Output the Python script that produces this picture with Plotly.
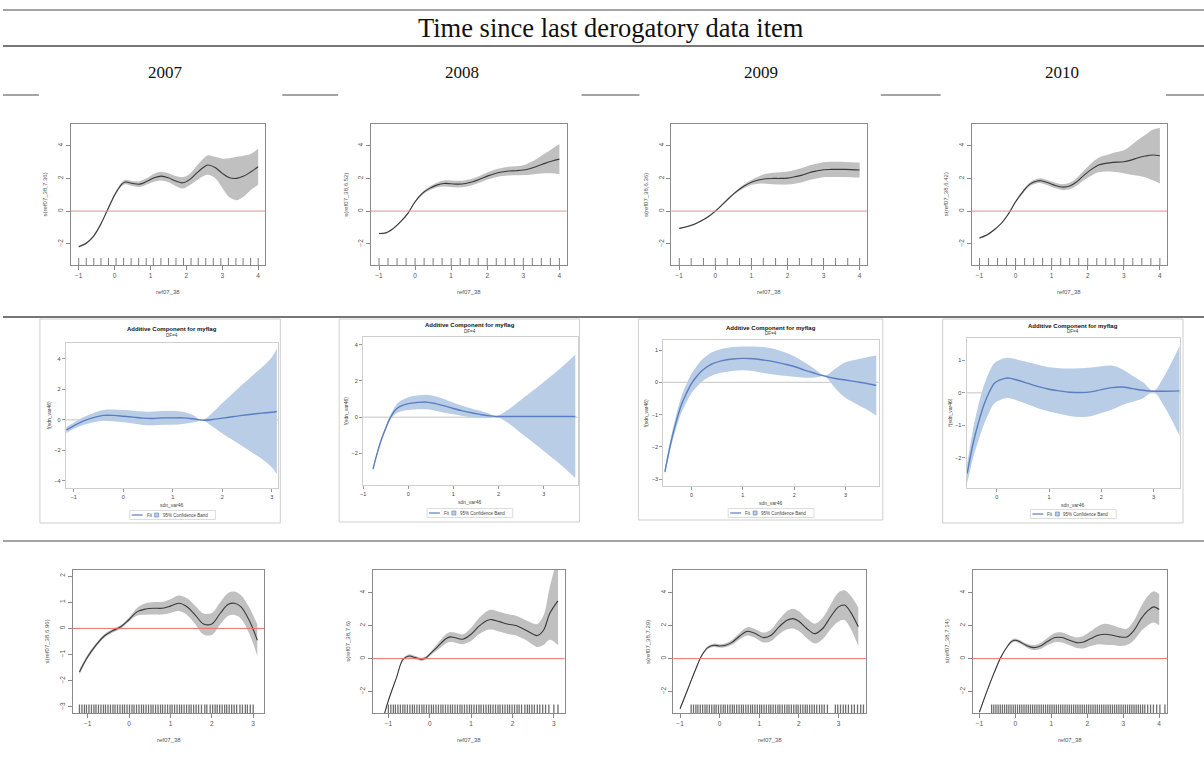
import plotly.graph_objects as go

W, H = 1204, 758

# ---------------- text ----------------
HEADER = "Time since last derogatory data item"
YEARS = ["2007", "2008", "2009", "2010"]
R1_YLABELS = ["s(ref07_38,7.36)", "s(ref07_38,6.52)", "s(ref07_38,6.36)", "s(ref07_38,6.42)"]
R3_YLABELS = ["s(ref07_38,6.96)", "s(ref07_38,7.6)", "s(ref07_38,7.29)", "s(ref07_38,7.14)"]
R_XLABEL = "ref07_38"
SAS_TITLE = "Additive Component for myflag"
SAS_SUB = "DF=4"
SAS_YLABEL = "f(sdn_var46)"
SAS_XLABEL = "sdn_var46"
SAS_LEG_FIT = "Fit"
SAS_LEG_BAND = "95% Confidence Band"

# ---------------- row 1 (gam smooths, regular rug) ----------------
R1_2007_X = [-1, -0.8, -0.6, -0.4, -0.2, 0, 0.1, 0.2, 0.3, 0.5, 0.7, 0.9, 1.1, 1.3, 1.5, 1.7, 1.9, 2.1, 2.3, 2.5, 2.6, 2.8, 3.0, 3.2, 3.4, 3.6, 3.8, 4.0]
R1_2007_FIT = [-2.18, -1.98, -1.57, -0.86, 0.06, 0.98, 1.35, 1.65, 1.78, 1.69, 1.65, 1.82, 2.04, 2.14, 2.04, 1.84, 1.73, 1.94, 2.35, 2.71, 2.82, 2.67, 2.31, 2.04, 2.0, 2.14, 2.41, 2.71]
R1_2007_HW = [0.07, 0.07, 0.08, 0.08, 0.08, 0.1, 0.1, 0.12, 0.14, 0.15, 0.18, 0.2, 0.25, 0.27, 0.27, 0.3, 0.35, 0.35, 0.45, 0.55, 0.6, 0.65, 0.9, 1.2, 1.33, 1.25, 1.1, 1.1]
R1_2007_RUG = [-1.0, -0.79, -0.58, -0.38, -0.17, 0.04, 0.25, 0.46, 0.67, 0.88, 1.08, 1.29, 1.5, 1.71, 1.92, 2.13, 2.33, 2.54, 2.75, 2.96, 3.17, 3.38, 3.58, 3.79, 4.0]

R1_2008_X = [-1, -0.8, -0.6, -0.4, -0.2, 0, 0.2, 0.4, 0.6, 0.8, 1.0, 1.2, 1.4, 1.6, 1.8, 2.0, 2.2, 2.4, 2.6, 2.8, 3.0, 3.2, 3.4, 3.6, 3.8, 4.0]
R1_2008_FIT = [-1.37, -1.33, -1.06, -0.65, -0.14, 0.57, 1.08, 1.39, 1.59, 1.69, 1.67, 1.65, 1.69, 1.8, 1.96, 2.14, 2.29, 2.39, 2.45, 2.47, 2.51, 2.61, 2.76, 2.92, 3.06, 3.18]
R1_2008_HW = [0.05, 0.05, 0.05, 0.05, 0.06, 0.07, 0.09, 0.12, 0.15, 0.18, 0.2, 0.2, 0.2, 0.2, 0.21, 0.22, 0.24, 0.25, 0.27, 0.28, 0.3, 0.38, 0.48, 0.6, 0.75, 0.92]
R1_2008_RUG = [-1.0, -0.75, -0.5, -0.25, 0.0, 0.25, 0.5, 0.75, 1.0, 1.25, 1.5, 1.75, 2.0, 2.25, 2.5, 2.75, 3.0, 3.25, 3.5, 3.75, 4.0]

R1_2009_X = [-1, -0.8, -0.6, -0.4, -0.2, 0, 0.2, 0.4, 0.6, 0.8, 1.0, 1.2, 1.4, 1.6, 1.8, 2.0, 2.2, 2.4, 2.6, 2.8, 3.0, 3.2, 3.6, 4.0]
R1_2009_FIT = [-1.06, -0.96, -0.82, -0.61, -0.35, 0.0, 0.41, 0.84, 1.22, 1.53, 1.76, 1.9, 1.98, 2.0, 2.0, 2.02, 2.1, 2.2, 2.35, 2.45, 2.53, 2.55, 2.55, 2.51]
R1_2009_HW = [0.04, 0.04, 0.04, 0.04, 0.04, 0.05, 0.06, 0.07, 0.09, 0.12, 0.15, 0.22, 0.3, 0.35, 0.38, 0.4, 0.42, 0.43, 0.44, 0.45, 0.46, 0.47, 0.46, 0.46]
R1_2009_RUG = [-1.0, -0.67, -0.33, 0.0, 0.33, 0.67, 1.0, 1.33, 1.67, 2.0, 2.33, 2.67, 3.0, 3.33, 3.67, 4.0]

R1_2010_X = [-1, -0.8, -0.6, -0.4, -0.2, 0, 0.2, 0.4, 0.6, 0.7, 0.9, 1.1, 1.3, 1.5, 1.7, 1.9, 2.1, 2.3, 2.5, 2.7, 3.0, 3.2, 3.4, 3.6, 3.8, 4.0]
R1_2010_FIT = [-1.65, -1.47, -1.16, -0.76, -0.18, 0.57, 1.18, 1.65, 1.84, 1.86, 1.73, 1.57, 1.47, 1.53, 1.8, 2.2, 2.55, 2.82, 2.92, 2.98, 3.02, 3.12, 3.27, 3.37, 3.43, 3.39]
R1_2010_HW = [0.05, 0.05, 0.05, 0.05, 0.06, 0.08, 0.1, 0.12, 0.14, 0.15, 0.16, 0.17, 0.18, 0.2, 0.24, 0.3, 0.38, 0.45, 0.5, 0.58, 0.7, 0.9, 1.1, 1.3, 1.55, 1.7]
R1_2010_RUG = [-1.0, -0.75, -0.5, -0.25, 0.0, 0.25, 0.5, 0.75, 1.0, 1.25, 1.5, 1.75, 2.0, 2.25, 2.5, 2.75, 3.0, 3.25, 3.5, 3.75, 4.0]

# ---------------- row 2 (SAS additive components) ----------------
S_2007_X = [-1.15, -1.0, -0.8, -0.6, -0.4, -0.2, 0, 0.2, 0.4, 0.6, 0.8, 1.0, 1.2, 1.4, 1.6, 1.8, 2.0, 2.2, 2.4, 2.6, 2.8, 3.0, 3.1]
S_2007_FIT = [-0.66, -0.39, -0.07, 0.15, 0.29, 0.29, 0.24, 0.18, 0.11, 0.09, 0.13, 0.13, 0.13, 0.07, -0.02, 0.02, 0.11, 0.2, 0.29, 0.37, 0.44, 0.5, 0.55]
S_2007_HW = [0.2, 0.2, 0.25, 0.3, 0.35, 0.38, 0.4, 0.42, 0.44, 0.45, 0.45, 0.45, 0.4, 0.25, 0.02, 0.45, 1.0, 1.5, 2.0, 2.5, 3.0, 3.6, 4.1]

S_2008_X = [-0.78, -0.7, -0.6, -0.5, -0.4, -0.3, -0.2, 0, 0.2, 0.4, 0.6, 0.8, 1.0, 1.2, 1.4, 1.6, 1.8, 1.95, 2.2, 2.5, 2.8, 3.0, 3.3, 3.7]
S_2008_FIT = [-2.86, -2.09, -1.27, -0.62, -0.04, 0.35, 0.57, 0.75, 0.81, 0.83, 0.75, 0.62, 0.48, 0.35, 0.24, 0.15, 0.07, 0.04, 0.04, 0.04, 0.04, 0.04, 0.04, 0.04]
S_2008_HW = [0.1, 0.1, 0.1, 0.1, 0.12, 0.2, 0.28, 0.35, 0.38, 0.4, 0.4, 0.37, 0.32, 0.28, 0.24, 0.2, 0.12, 0.02, 0.35, 0.92, 1.5, 1.9, 2.5, 3.4]

S_2009_X = [-0.52, -0.4, -0.3, -0.2, -0.1, 0, 0.1, 0.2, 0.4, 0.6, 0.8, 1.0, 1.2, 1.4, 1.6, 1.8, 2.0, 2.2, 2.4, 2.6, 2.8, 3.0, 3.2, 3.4, 3.6]
S_2009_FIT = [-2.77, -1.84, -1.22, -0.70, -0.34, -0.03, 0.18, 0.36, 0.57, 0.67, 0.72, 0.74, 0.73, 0.69, 0.64, 0.57, 0.49, 0.38, 0.28, 0.19, 0.12, 0.07, 0.02, -0.03, -0.1]
S_2009_HW = [0.08, 0.15, 0.2, 0.25, 0.28, 0.3, 0.32, 0.34, 0.36, 0.37, 0.37, 0.37, 0.38, 0.4, 0.4, 0.37, 0.32, 0.24, 0.13, 0.02, 0.3, 0.55, 0.68, 0.8, 0.93]

S_2010_X = [-0.57, -0.45, -0.35, -0.25, -0.15, -0.05, 0.05, 0.2, 0.4, 0.6, 0.8, 1.0, 1.2, 1.4, 1.6, 1.8, 2.0, 2.2, 2.4, 2.6, 2.8, 3.0, 3.2, 3.5]
S_2010_FIT = [-2.49, -1.52, -0.90, -0.38, 0.01, 0.29, 0.39, 0.46, 0.39, 0.29, 0.19, 0.11, 0.06, 0.02, 0.01, 0.03, 0.1, 0.16, 0.18, 0.13, 0.08, 0.05, 0.05, 0.06]
S_2010_HW = [0.3, 0.45, 0.55, 0.6, 0.62, 0.62, 0.62, 0.62, 0.63, 0.65, 0.67, 0.68, 0.7, 0.73, 0.75, 0.75, 0.72, 0.68, 0.55, 0.4, 0.25, 0.02, 0.45, 1.38]

# ---------------- row 3 (gam smooths, dense rug) ----------------
R3_2007_X = [-1.2, -1.0, -0.8, -0.6, -0.4, -0.2, 0, 0.2, 0.4, 0.6, 0.8, 1.0, 1.2, 1.4, 1.6, 1.8, 2.0, 2.2, 2.4, 2.55, 2.7, 2.9, 3.1]
R3_2007_FIT = [-1.66, -1.08, -0.64, -0.29, -0.09, 0.06, 0.34, 0.64, 0.74, 0.77, 0.77, 0.85, 0.96, 0.83, 0.51, 0.17, 0.17, 0.57, 0.92, 0.96, 0.83, 0.32, -0.45]
R3_2007_HW = [0.1, 0.08, 0.07, 0.07, 0.07, 0.07, 0.08, 0.15, 0.22, 0.24, 0.24, 0.26, 0.3, 0.32, 0.35, 0.4, 0.42, 0.42, 0.44, 0.45, 0.45, 0.5, 0.6]
R3_2007_RUG = [-1.2, -1.14, -1.08, -1.03, -0.97, -0.91, -0.85, -0.8, -0.74, -0.68, -0.62, -0.57, -0.51, -0.45, -0.39, -0.34, -0.28, -0.22, -0.16, -0.11, -0.05, 0.01, 0.07, 0.12, 0.18, 0.24, 0.3, 0.35, 0.41, 0.47, 0.53, 0.58, 0.64, 0.7, 0.76, 0.81, 0.87, 0.93, 0.99, 1.04, 1.1, 1.16, 1.22, 1.27, 1.33, 1.39, 1.45, 1.5, 1.56, 1.62, 1.68, 1.75, 1.83, 1.88, 1.96, 2.02, 2.08, 2.13, 2.19, 2.25, 2.31, 2.36, 2.42, 2.48, 2.54, 2.6, 2.68, 2.74, 2.81, 2.86, 2.93, 3.0]

R3_2008_X = [-1.1, -1.0, -0.8, -0.65, -0.5, -0.35, -0.2, -0.1, 0, 0.2, 0.4, 0.5, 0.6, 0.8, 1.0, 1.2, 1.4, 1.5, 1.7, 1.9, 2.1, 2.3, 2.5, 2.6, 2.75, 2.9, 3.1]
R3_2008_FIT = [-3.4, -2.54, -1.12, -0.06, 0.16, 0.06, -0.04, 0.04, 0.26, 0.75, 1.22, 1.32, 1.28, 1.18, 1.48, 1.99, 2.33, 2.37, 2.23, 2.09, 1.99, 1.76, 1.48, 1.4, 1.72, 2.74, 3.51]
R3_2008_HW = [0.05, 0.05, 0.05, 0.06, 0.1, 0.1, 0.1, 0.1, 0.1, 0.2, 0.28, 0.3, 0.3, 0.3, 0.4, 0.5, 0.58, 0.6, 0.6, 0.6, 0.6, 0.6, 0.65, 0.7, 0.9, 1.6, 2.7]
R3_2008_RUG = [-1.0, -0.94, -0.88, -0.83, -0.77, -0.71, -0.65, -0.6, -0.54, -0.48, -0.42, -0.37, -0.31, -0.25, -0.19, -0.14, -0.08, -0.02, 0.04, 0.09, 0.15, 0.21, 0.27, 0.32, 0.38, 0.44, 0.5, 0.55, 0.61, 0.67, 0.73, 0.78, 0.84, 0.9, 0.96, 1.01, 1.07, 1.13, 1.19, 1.24, 1.3, 1.36, 1.42, 1.47, 1.53, 1.59, 1.65, 1.7, 1.76, 1.82, 1.88, 1.93, 1.99, 2.05, 2.11, 2.16, 2.22, 2.3, 2.36, 2.41, 2.47, 2.53, 2.6, 2.66, 2.73, 2.8, 2.88, 3.0, 3.1]

R3_2009_X = [-1.0, -0.8, -0.6, -0.45, -0.3, -0.15, 0, 0.15, 0.3, 0.5, 0.7, 0.9, 1.1, 1.3, 1.5, 1.7, 1.85, 2.0, 2.2, 2.4, 2.6, 2.8, 3.0, 3.15, 3.3, 3.5]
R3_2009_FIT = [-3.04, -1.83, -0.61, 0.2, 0.67, 0.81, 0.77, 0.81, 0.97, 1.36, 1.66, 1.52, 1.28, 1.42, 1.93, 2.33, 2.43, 2.27, 1.83, 1.52, 1.83, 2.54, 3.14, 3.25, 2.84, 1.93]
R3_2009_HW = [0.1, 0.08, 0.07, 0.07, 0.08, 0.1, 0.1, 0.12, 0.15, 0.2, 0.25, 0.27, 0.3, 0.35, 0.45, 0.55, 0.6, 0.6, 0.6, 0.6, 0.65, 0.75, 0.88, 0.9, 1.0, 1.17]
R3_2009_RUG = [-0.72, -0.66, -0.6, -0.55, -0.49, -0.43, -0.37, -0.32, -0.26, -0.2, -0.14, -0.09, -0.03, 0.03, 0.09, 0.14, 0.2, 0.26, 0.32, 0.37, 0.43, 0.49, 0.55, 0.6, 0.66, 0.72, 0.78, 0.83, 0.89, 0.95, 1.01, 1.06, 1.12, 1.18, 1.24, 1.29, 1.35, 1.41, 1.47, 1.52, 1.58, 1.64, 1.7, 1.75, 1.81, 1.87, 1.93, 1.98, 2.04, 2.1, 2.16, 2.21, 2.27, 2.33, 2.39, 2.45, 2.52, 2.58, 2.64, 2.72, 2.92, 2.98, 3.05, 3.12, 3.18, 3.25, 3.33, 3.4, 3.48, 3.56, 3.63]

R3_2010_X = [-1.0, -0.8, -0.6, -0.4, -0.2, -0.1, 0, 0.1, 0.3, 0.5, 0.7, 0.9, 1.1, 1.3, 1.5, 1.7, 1.9, 2.1, 2.3, 2.5, 2.7, 2.9, 3.1, 3.3, 3.5, 3.7, 3.85, 4.0]
R3_2010_FIT = [-3.25, -2.03, -0.91, 0.1, 0.81, 1.05, 1.12, 1.05, 0.81, 0.67, 0.77, 1.05, 1.28, 1.28, 1.12, 0.97, 1.01, 1.22, 1.42, 1.48, 1.42, 1.32, 1.32, 1.72, 2.43, 2.94, 3.14, 2.98]
R3_2010_HW = [0.1, 0.08, 0.07, 0.07, 0.08, 0.1, 0.1, 0.1, 0.12, 0.15, 0.18, 0.22, 0.28, 0.3, 0.3, 0.32, 0.38, 0.45, 0.55, 0.63, 0.6, 0.55, 0.5, 0.6, 0.75, 0.9, 0.95, 0.95]
R3_2010_RUG = [-0.66, -0.6, -0.54, -0.48, -0.42, -0.36, -0.3, -0.24, -0.18, -0.12, -0.06, 0.0, 0.06, 0.12, 0.18, 0.24, 0.3, 0.36, 0.42, 0.48, 0.54, 0.6, 0.66, 0.72, 0.78, 0.84, 0.9, 0.96, 1.02, 1.08, 1.14, 1.2, 1.26, 1.32, 1.38, 1.44, 1.5, 1.56, 1.62, 1.68, 1.74, 1.8, 1.86, 1.92, 1.98, 2.04, 2.1, 2.16, 2.22, 2.28, 2.34, 2.4, 2.46, 2.52, 2.58, 2.64, 2.7, 2.76, 2.82, 2.88, 2.94, 3.0, 3.06, 3.12, 3.18, 3.24, 3.3, 3.36, 3.42, 3.48, 3.54, 3.6, 3.68, 3.76, 3.84, 3.93, 4.02, 4.16]

# ---------------- tick values ----------------
R1_XTICKS = [-1, 0, 1, 2, 3, 4]
R1_YTICKS = [-2, 0, 2, 4]
R3_2007_YTICKS = [-3, -2, -1, 0, 1, 2]
R3_YTICKS = [-2, 0, 2, 4]
R3_2007_XTICKS = [-1, 0, 1, 2, 3]
R3_2010_XTICKS = [-1, 0, 1, 2, 3, 4]
S_2007_YTICKS = [-4, -2, 0, 2, 4]
S_2008_YTICKS = [-2, 0, 2, 4]
S_2009_YTICKS = [-3, -2, -1, 0, 1]
S_2010_YTICKS = [-2, -1, 0, 1]
S_2007_XTICKS = [-1, 0, 1, 2, 3]
S_2008_XTICKS = [-1, 0, 1, 2, 3]
S_LATE_XTICKS = [0, 1, 2, 3]

# ---------------- styles ----------------
R_BAND = "#c0c0c0"
R_LINE = "#3a3a3a"
R_AX = "#8a8a8a"
R_TXT = "#555555"
R_RUG = "#6e6e6e"
ZERO_RED = "#f28a8a"
S_BAND = "#b9cde6"
S_LINE = "#5a7fc0"
S_BORDER = "#cfcfcf"
S_TXT = "#444444"
SANS = "Liberation Sans, Arial, sans-serif"
SERIF = "Liberation Serif, Times New Roman, serif"

fig = go.Figure()
axes = {}
annotations = []
shapes = []


def px(x):
    return x / W


def py(y):
    return 1 - y / H


def note(x, y, text, size, color, family=SANS, xanchor="center", angle=0):
    annotations.append(dict(x=px(x), y=py(y), xref="paper", yref="paper", text=text, showarrow=False,
                            xanchor=xanchor, yanchor="middle", textangle=angle,
                            font=dict(size=size, color=color, family=family)))


def names(k):
    xa = "x" if k == 1 else f"x{k}"
    ya = "y" if k == 1 else f"y{k}"
    return xa, ya, "xaxis" if k == 1 else f"xaxis{k}", "yaxis" if k == 1 else f"yaxis{k}"


def band_traces(xa, ya, xs, fit, hw, band_col):
    lo = [f - h for f, h in zip(fit, hw)]
    hi = [f + h for f, h in zip(fit, hw)]
    fig.add_trace(go.Scatter(x=xs, y=lo, mode="lines", line=dict(width=0, color=band_col, shape="spline"),
                             xaxis=xa, yaxis=ya, hoverinfo="skip"))
    fig.add_trace(go.Scatter(x=xs, y=hi, mode="lines", line=dict(width=0, color=band_col, shape="spline"),
                             fill="tonexty", fillcolor=band_col, xaxis=xa, yaxis=ya, hoverinfo="skip"))


def r_panel(k, box, xr, yr, xt, yt, xs, fit, hw, rug, ylabel, rug_len, zero_col, rug_w):
    x0, x1, y0, y1 = box
    xa, ya, xk, yk = names(k)
    band_traces(xa, ya, xs, fit, hw, R_BAND)
    shapes.append(dict(type="line", xref=f"{xa} domain", yref=ya, x0=0, x1=1, y0=0, y1=0,
                       line=dict(color=zero_col, width=1)))
    fig.add_trace(go.Scatter(x=xs, y=fit, mode="lines", line=dict(color=R_LINE, width=1.1, shape="spline"),
                             xaxis=xa, yaxis=ya))
    fig.add_trace(go.Scatter(x=rug, y=[yr[0]] * len(rug), mode="markers",
                             marker=dict(symbol="line-ns-open", size=rug_len * 2, color=R_RUG,
                                         line=dict(color=R_RUG, width=rug_w)),
                             xaxis=xa, yaxis=ya, cliponaxis=True))
    tf = dict(size=6.5, color=R_TXT, family=SANS)
    axes[xk] = dict(domain=[px(x0), px(x1)], range=xr, anchor=ya, tickvals=xt, ticks="outside", ticklen=4,
                    tickcolor=R_AX, showline=True, mirror=True, linecolor=R_AX, linewidth=1, showgrid=False,
                    zeroline=False, tickfont=tf, fixedrange=True)
    axes[yk] = dict(domain=[py(y1), py(y0)], range=yr, anchor=xa, tickvals=yt, ticks="outside", ticklen=4,
                    tickcolor=R_AX, showline=True, mirror=True, linecolor=R_AX, linewidth=1, showgrid=False,
                    zeroline=False, tickfont=tf, tickangle=-90, fixedrange=True)
    note((x0 + x1) / 2, y1 + 27, R_XLABEL, 6, R_TXT)
    note(x0 - 26, (y0 + y1) / 2, ylabel, 6, R_TXT, angle=-90)


def s_panel(k, frame, box, xr, yr, xt, yt, xs, fit, hw, title_y, leg_x, leg_y):
    x0, x1, y0, y1 = box
    fx0, fy0, fx1, fy1 = frame
    xa, ya, xk, yk = names(k)
    shapes.append(dict(type="rect", xref="paper", yref="paper", x0=px(fx0), x1=px(fx1), y0=py(fy1), y1=py(fy0),
                       line=dict(color=S_BORDER, width=1), fillcolor="white", layer="below"))
    band_traces(xa, ya, xs, fit, hw, S_BAND)
    shapes.append(dict(type="line", xref=f"{xa} domain", yref=ya, x0=0, x1=1, y0=0, y1=0,
                       line=dict(color="#c4c4c4", width=1), layer="below"))
    fig.add_trace(go.Scatter(x=xs, y=fit, mode="lines", line=dict(color=S_LINE, width=1.4, shape="spline"),
                             xaxis=xa, yaxis=ya))
    tf = dict(size=5.5, color=S_TXT, family=SANS)
    axes[xk] = dict(domain=[px(x0), px(x1)], range=xr, anchor=ya, tickvals=xt, ticks="outside", ticklen=3,
                    tickcolor="#999", showline=True, mirror=True, linecolor=S_BORDER, linewidth=1.2,
                    showgrid=False, zeroline=False, tickfont=tf, fixedrange=True)
    axes[yk] = dict(domain=[py(y1), py(y0)], range=yr, anchor=xa, tickvals=yt, ticks="outside", ticklen=3,
                    tickcolor="#999", showline=True, mirror=True, linecolor=S_BORDER, linewidth=1.2,
                    showgrid=False, zeroline=False, tickfont=tf, fixedrange=True)
    cx = (x0 + x1) / 2
    note(cx, title_y, "<b>" + SAS_TITLE + "</b>", 6, "#111")
    note(cx, title_y + 6, SAS_SUB, 4.5, "#333")
    note(cx, y1 + 16.5, SAS_XLABEL, 5, S_TXT)
    note(x0 - 17, (y0 + y1) / 2, SAS_YLABEL, 5, S_TXT, angle=-90)
    # legend
    shapes.append(dict(type="rect", xref="paper", yref="paper", x0=px(leg_x), x1=px(leg_x + 86),
                       y0=py(leg_y + 4.5), y1=py(leg_y - 4.5), line=dict(color="#d4d4d4", width=0.8)))
    shapes.append(dict(type="line", xref="paper", yref="paper", x0=px(leg_x + 2), x1=px(leg_x + 13),
                       y0=py(leg_y), y1=py(leg_y), line=dict(color=S_LINE, width=1.2)))
    note(leg_x + 15, leg_y, SAS_LEG_FIT, 4.5, S_TXT, xanchor="left")
    shapes.append(dict(type="rect", xref="paper", yref="paper", x0=px(leg_x + 25), x1=px(leg_x + 29),
                       y0=py(leg_y + 2), y1=py(leg_y - 2), fillcolor=S_BAND, line=dict(color=S_LINE, width=0.6)))
    note(leg_x + 31, leg_y, SAS_LEG_BAND, 4.5, S_TXT, xanchor="left")


# Row 1
R1_BOXES = [(68, 263, 124, 265), (369, 565, 124, 265), (670, 866, 124, 265), (971, 1167, 124, 265)]
R1_DATA = [(R1_2007_X, R1_2007_FIT, R1_2007_HW, R1_2007_RUG),
           (R1_2008_X, R1_2008_FIT, R1_2008_HW, R1_2008_RUG),
           (R1_2009_X, R1_2009_FIT, R1_2009_HW, R1_2009_RUG),
           (R1_2010_X, R1_2010_FIT, R1_2010_HW, R1_2010_RUG)]
for i in range(4):
    xs, fit, hw, rug = R1_DATA[i]
    r_panel(i + 1, R1_BOXES[i], [-1.22, 4.2], [-3.3, 5.33], R1_XTICKS, R1_YTICKS, xs, fit, hw, rug,
            R1_YLABELS[i], 5, ZERO_RED, 0.9)

# Row 2
S_FRAMES = [(37, 319, 278, 523), (337, 319, 578, 522), (637, 319, 882, 520), (942, 319, 1183, 523)]
S_BOXES = [(63, 276, 343, 488), (361, 576, 337, 485), (662, 878, 340, 486), (966, 1180, 338, 488)]
S_XR = [[-1.16, 3.13], [-1.0, 3.75], [-0.55, 3.65], [-0.58, 3.51]]
S_YR = [[-4.46, 5.03], [-3.74, 4.42], [-3.21, 1.31], [-2.93, 1.69]]
S_XT = [S_2007_XTICKS, S_2008_XTICKS, S_LATE_XTICKS, S_LATE_XTICKS]
S_YT = [S_2007_YTICKS, S_2008_YTICKS, S_2009_YTICKS, S_2010_YTICKS]
S_TITLE_Y = [329.5, 325, 327.5, 325.5]
S_LEG = [(127, 515), (425, 513), (727, 513), (1030, 514)]
S_DATA = [(S_2007_X, S_2007_FIT, S_2007_HW), (S_2008_X, S_2008_FIT, S_2008_HW),
          (S_2009_X, S_2009_FIT, S_2009_HW), (S_2010_X, S_2010_FIT, S_2010_HW)]
for i in range(4):
    xs, fit, hw = S_DATA[i]
    s_panel(i + 5, S_FRAMES[i], S_BOXES[i], S_XR[i], S_YR[i], S_XT[i], S_YT[i], xs, fit, hw,
            S_TITLE_Y[i], S_LEG[i][0], S_LEG[i][1])

# Row 3
R3_BOXES = [(70, 262, 570, 713), (371, 563, 570, 713), (672, 865, 570, 713), (972, 1167, 570, 713)]
R3_XR = [[-1.36, 3.27], [-1.37, 3.26], [-1.17, 3.69], [-1.19, 4.22]]
R3_YR = [[-3.23, 2.23], [-3.3, 5.38], [-3.3, 5.38], [-3.3, 5.38]]
R3_XT = [R3_2007_XTICKS, R3_2007_XTICKS, R3_2007_XTICKS, R3_2010_XTICKS]
R3_YT = [R3_2007_YTICKS, R3_YTICKS, R3_YTICKS, R3_YTICKS]
R3_DATA = [(R3_2007_X, R3_2007_FIT, R3_2007_HW, R3_2007_RUG),
           (R3_2008_X, R3_2008_FIT, R3_2008_HW, R3_2008_RUG),
           (R3_2009_X, R3_2009_FIT, R3_2009_HW, R3_2009_RUG),
           (R3_2010_X, R3_2010_FIT, R3_2010_HW, R3_2010_RUG)]
for i in range(4):
    xs, fit, hw, rug = R3_DATA[i]
    r_panel(i + 9, R3_BOXES[i], R3_XR[i], R3_YR[i], R3_XT[i], R3_YT[i], xs, fit, hw, rug,
            R3_YLABELS[i], 6, "#f07070", 1.3)

# ---------------- table frame ----------------
TBL = "#4a4a4a"
for yy, segs, wdt in [(10, [(0, 1204)], 1), (46, [(0, 1204)], 1.3),
                      (95, [(0, 36), (280, 336), (580, 638), (880, 940), (1166, 1204)], 1),
                      (317, [(0, 1204)], 1.3), (541, [(0, 1204)], 1)]:
    for a, b in segs:
        shapes.append(dict(type="line", xref="paper", yref="paper", x0=px(a), x1=px(b), y0=py(yy), y1=py(yy),
                           line=dict(color=TBL, width=wdt), layer="below"))

note(610, 28, HEADER, 26.5, "#111", family=SERIF)
YEAR_X = [163, 460, 760, 1062]
for yx, yt in zip(YEAR_X, YEARS):
    note(yx, 72, yt, 17, "#111", family=SERIF)

fig.update_layout(width=W, height=H, autosize=False, margin=dict(l=0, r=0, t=0, b=0),
                  paper_bgcolor="white", plot_bgcolor="rgba(0,0,0,0)", showlegend=False,
                  annotations=annotations, shapes=shapes, **axes)
fig.write_html("out.html", config={"displayModeBar": False},
               post_script="document.body.style.margin='0';document.body.style.overflow='hidden';")
